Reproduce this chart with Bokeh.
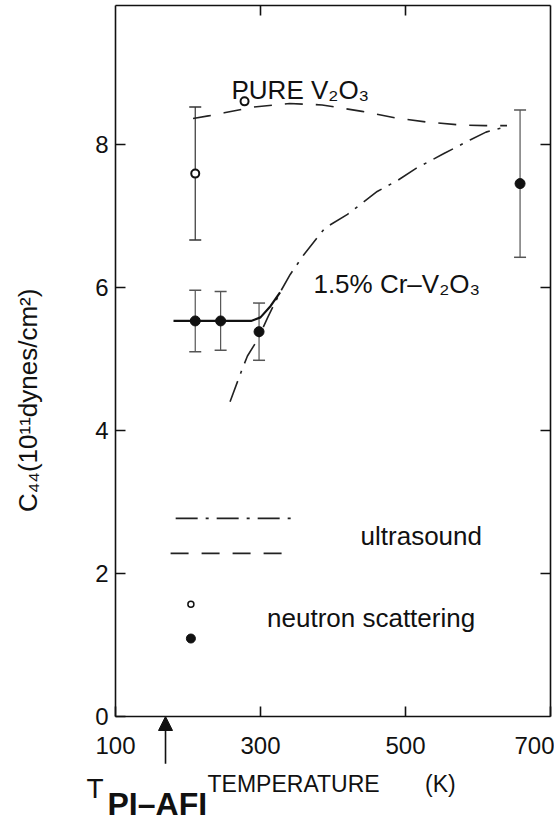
import math
from bokeh.plotting import figure
from bokeh.models import (Range1d, LinearAxis, FixedTicker, Label, Whisker, TeeHead,
                          Arrow, NormalHead, ColumnDataSource)
from bokeh.embed import file_html
from bokeh.resources import INLINE

FONT = "Liberation Sans"

# ---------------- data ----------------
x_ticks = [100, 300, 500, 700]
x_tick_labels = ["100", "300", "500", "700"]
y_ticks = [0, 2, 4, 6, 8]
y_tick_labels = ["0", "2", "4", "6", "8"]
x_lim = (100, 700)
y_lim = (0, 9.94)

# ultrasound, pure V2O3 (dashed)
pure_us_T = [207, 230, 250, 290, 340, 385, 440, 485, 530, 575, 610, 640]
pure_us_C = [8.36, 8.40, 8.44, 8.52, 8.57, 8.55, 8.46, 8.37, 8.31, 8.27, 8.26, 8.26]

# ultrasound, 1.5% Cr-V2O3 (dash-dot)
cr_us_T = [258, 273, 282, 296, 310, 327, 341, 360, 389, 420, 461, 490, 514, 553, 589, 611, 640]
cr_us_C = [4.40, 4.81, 5.04, 5.27, 5.58, 5.93, 6.18, 6.46, 6.83, 7.02, 7.34, 7.50, 7.66, 7.87, 8.06, 8.17, 8.25]

# solid guide line through Cr-V2O3 neutron points
cr_fit_T = [180, 287, 300, 314, 327]
cr_fit_C = [5.53, 5.53, 5.58, 5.74, 5.93]

# neutron scattering, pure V2O3 (open circles)
pure_ns_T = [210, 278]
pure_ns_C = [7.59, 8.60]
pure_ns_err = [0.93, 0.0]

# neutron scattering, 1.5% Cr-V2O3 (filled circles)
cr_ns_T = [210, 245, 298, 658]
cr_ns_C = [5.53, 5.53, 5.38, 7.45]
cr_ns_err = [0.43, 0.41, 0.40, 1.03]

# transition temperature T_PI-AFI (arrow)
T_transition = 169

# hand-drawn key
key_dashdot_T = [183, 347]
key_dashdot_C = [2.77, 2.77]
key_dash_T = [176, 330]
key_dash_C = [2.28, 2.28]
key_open_T, key_open_C = [204], [1.57]
key_fill_T, key_fill_C = [204], [1.09]

# ---------------- figure ----------------
# The frame covers the whole page; the axes are drawn at fixed data locations
# so that the texts around the box stay inside the drawable area.
p = figure(width=554, height=826, x_range=Range1d(-58.6, 705.5), y_range=Range1d(-1.538, 10.01),
           output_backend="svg", toolbar_location=None,
           x_axis_type=None, y_axis_type=None, min_border=0)
p.outline_line_color = None
p.background_fill_color = "white"
p.border_fill_color = "white"

INK = "#111111"

def make_axis(ticks, labels, loc, bounds, show_labels, standoff):
    ax = LinearAxis(ticker=FixedTicker(ticks=ticks, minor_ticks=[]),
                    fixed_location=loc, bounds=bounds,
                    major_tick_in=10, major_tick_out=0,
                    minor_tick_in=0, minor_tick_out=0,
                    major_tick_line_color=INK, major_tick_line_width=1.6,
                    axis_line_color=INK, axis_line_width=1.6,
                    major_label_text_font=FONT,
                    major_label_text_color=INK,
                    major_label_text_font_size="24px" if show_labels else "0px",
                    major_label_standoff=standoff)
    if show_labels:
        ax.major_label_overrides = {t: l for t, l in zip(ticks, labels)}
    else:
        ax.major_label_text_alpha = 0
    return ax

p.add_layout(make_axis(x_ticks, x_tick_labels, y_lim[0], x_lim, True, 21), "below")
p.add_layout(make_axis(y_ticks, y_tick_labels, x_lim[0], y_lim, True, 7), "left")
p.add_layout(make_axis([2, 4, 6, 8], None, x_lim[1], y_lim, False, 0), "right")
p.add_layout(make_axis([300, 500], None, y_lim[1], x_lim, False, 0), "above")

# curves
p.line(pure_us_T, pure_us_C, line_color="#222222", line_width=1.6, line_dash="18 13")
p.line(cr_us_T, cr_us_C, line_color="#222222", line_width=1.6, line_dash="22 8 3 8")
p.line(cr_fit_T, cr_fit_C, line_color=INK, line_width=2.2)

# error bars
def whisker(T, C, E, color):
    src = ColumnDataSource(dict(
        x=[t for t, e in zip(T, E) if e > 0],
        upper=[c + e for c, e in zip(C, E) if e > 0],
        lower=[c - e for c, e in zip(C, E) if e > 0]))
    w = Whisker(source=src, base="x", upper="upper", lower="lower", dimension="height",
                line_color=color, line_width=1.2,
                upper_head=TeeHead(size=12, line_color=color, line_width=1.5),
                lower_head=TeeHead(size=12, line_color=color, line_width=1.5))
    p.add_layout(w)

whisker(pure_ns_T, pure_ns_C, pure_ns_err, "#333333")
whisker(cr_ns_T, cr_ns_C, cr_ns_err, "#555555")

# points
p.scatter(pure_ns_T, pure_ns_C, marker="circle", size=8, fill_color="white",
          line_color=INK, line_width=2)
p.scatter(cr_ns_T, cr_ns_C, marker="circle", size=10, fill_color=INK, line_color=INK)

# key
p.line(key_dashdot_T, key_dashdot_C, line_color="#222222", line_width=1.6, line_dash="22 8 3 8")
p.line(key_dash_T, key_dash_C, line_color="#222222", line_width=1.6, line_dash="18 13")
p.scatter(key_open_T, key_open_C, marker="circle", size=6, fill_color="white",
          line_color=INK, line_width=1.5)
p.scatter(key_fill_T, key_fill_C, marker="circle", size=9, fill_color=INK, line_color=INK)

def lab(x, y, text, size="26px", align="left", angle=0.0, style="normal"):
    p.add_layout(Label(x=x, y=y, text=text, text_font=FONT, text_font_size=size,
                       text_align=align, text_baseline="middle", angle=angle,
                       text_color=INK, text_font_style=style))

lab(260, 8.755, "PURE V\u2082O\u2083")
lab(373, 6.05, "1.5% Cr\u2013V\u2082O\u2083")
lab(438, 2.52, "ultrasound")
lab(309, 1.37, "neutron scattering")

# axis titles
lab(-20, 4.42, "C\u2084\u2084(10\u00b9\u00b9dynes/cm\u00b2)", size="26px", align="center",
    angle=math.pi / 2)
lab(60, -1.0, "T", size="28px")
lab(89, -1.23, "PI\u2013AFI", size="32px", style="bold")
lab(227, -0.95, "TEMPERATURE", size="23px")
lab(527, -0.95, "(K)", size="23px")

p.add_layout(Arrow(end=NormalHead(size=14, fill_color=INK, line_color=INK),
                   x_start=T_transition, y_start=-0.66, x_end=T_transition, y_end=0.0,
                   line_color=INK, line_width=1.6))

open("out.html", "w").write(file_html(p, INLINE))
